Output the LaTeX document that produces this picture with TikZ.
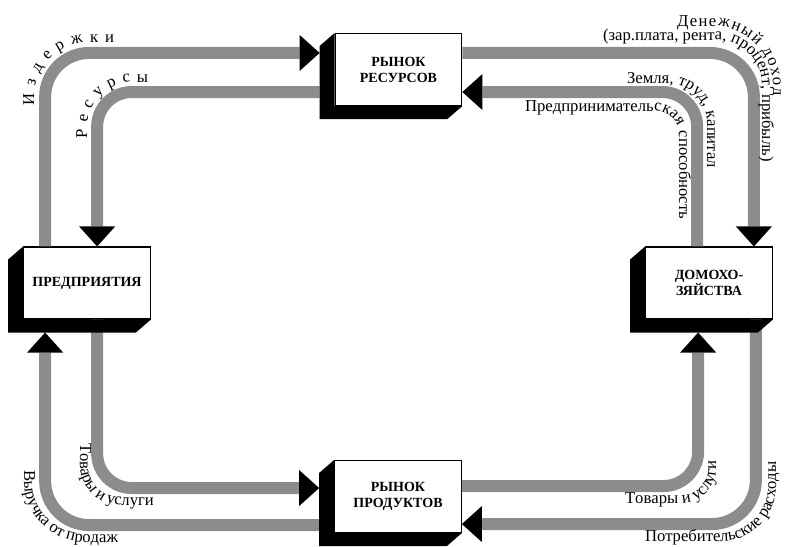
\documentclass[tikz,border=0pt]{standalone}
\usepackage{fontspec}
\setmainfont{Liberation Serif}
\usetikzlibrary{arrows.meta,decorations.text}

\definecolor{flowgray}{gray}{0.55}
\newcommand\boxfont{\fontsize{10.5}{12}\selectfont\bfseries}
\newcommand\lblfont{\fontsize{12.5}{14}\selectfont}

\tikzset{
  market/.style={draw, line width=0.8pt, fill=white, minimum width=95pt,
    minimum height=54pt, inner sep=0pt, align=center, font=\boxfont},
  band/.style={draw=flowgray, line width=9pt, rounded corners=33pt,
    -{Triangle[length=15pt,width=27pt,line width=0pt,color=black]}},
  innerband/.style={band, rounded corners=26pt},
  along/.style={decorate, decoration={text along path, text align=left}},
}

\begin{document}
\begin{tikzpicture}[x=0.75pt,y=-0.75pt]
\useasboundingbox (0,0) rectangle (787,546);

% 四个方框
\node[market] (rynres) at (398.5,69.5) {РЫНОК\\РЕСУРСОВ};
\node[market] (pred) at (87,283) {ПРЕДПРИЯТИЯ};
\node[market] (dom) at (709,283) {ДОМОХО-\\ЗЯЙСТВА};
\node[market] (rynprod) at (398,496.5) {РЫНОК\\ПРОДУКТОВ};

% 外圈：货币流
\draw[band] ([shift={(22,0)}]pred.north west) |- ([shift={(-15,20)}]rynres.north west);
\draw[band] ([shift={(0,20)}]rynres.north east) -| ([shift={(-19,0)}]dom.north east);
\draw[band] ([shift={(-17,0)}]dom.south east) |- ([shift={(0,-9)}]rynprod.south east);
\draw[band] ([shift={(-15,-8)}]rynprod.south west) -| ([shift={(22,13)}]pred.south west);

% 内圈：实物流
\draw[innerband] ([shift={(-15,-14)}]rynres.south west) -| ([shift={(74,0)}]pred.north west);
\draw[innerband] ([shift={(52,0)}]dom.north west) |- ([shift={(0,-14)}]rynres.south east);
\draw[innerband] ([shift={(74,0)}]pred.south west) |- ([shift={(-15,-45)}]rynprod.south west);
\draw[innerband] ([shift={(0,-47)}]rynprod.south east) -| ([shift={(53,13)}]dom.south west);

% 方框的立体边
\foreach \n in {rynres,pred,dom,rynprod}
  \fill (\n.north west) -- ++(-15,13) -- ([shift={(-15,13)}]\n.south west)
    -- ([shift={(-15,13)}]\n.south east) -- (\n.south east) -- (\n.south west) -- cycle;

% 沿路径的文字
\path[along, rounded corners=41pt, decoration={text align={fit to path}, text={|\lblfont|Издержки}}]
  (34,105) |- (114,42);
\path[along, rounded corners=34pt, decoration={text align={fit to path}, text={|\lblfont|Ресурсы}}]
  (87,138) |- (148,82);
\path[along, rounded corners=45pt, decoration={text align={fit to path}, text={|\lblfont|Денежный доход}}]
  (677,26) -| (773,96);
\path[along, rounded corners=34pt, decoration={text={|\lblfont|(зар.плата, рента, процент, прибыль)}}]
  (603,40) -| (762,220);
\path[along, rounded corners=30pt, decoration={text={|\lblfont|Земля, труд, капитал}}]
  (627,83) -| (707,220);
\path[along, rounded corners=18pt, decoration={text={|\lblfont|Предпринимательская способность}}]
  (525,111) -| (679,260);
\path[along, rounded corners=30pt, decoration={text={|\lblfont|Товары и услуги}}]
  (80,443) |- (200,505);
\path[along, rounded corners=46pt, decoration={text={|\lblfont|Выручка от продаж}}]
  (24,470) |- (200,542);
\path[along, rounded corners=26pt, decoration={text={|\lblfont|Товары и услуги}}]
  (625,503) -| (716,400);
\path[along, rounded corners=41pt, decoration={text={|\lblfont|Потребительские расходы}}]
  (645,541) -| (776,400);
\end{tikzpicture}
\end{document}
